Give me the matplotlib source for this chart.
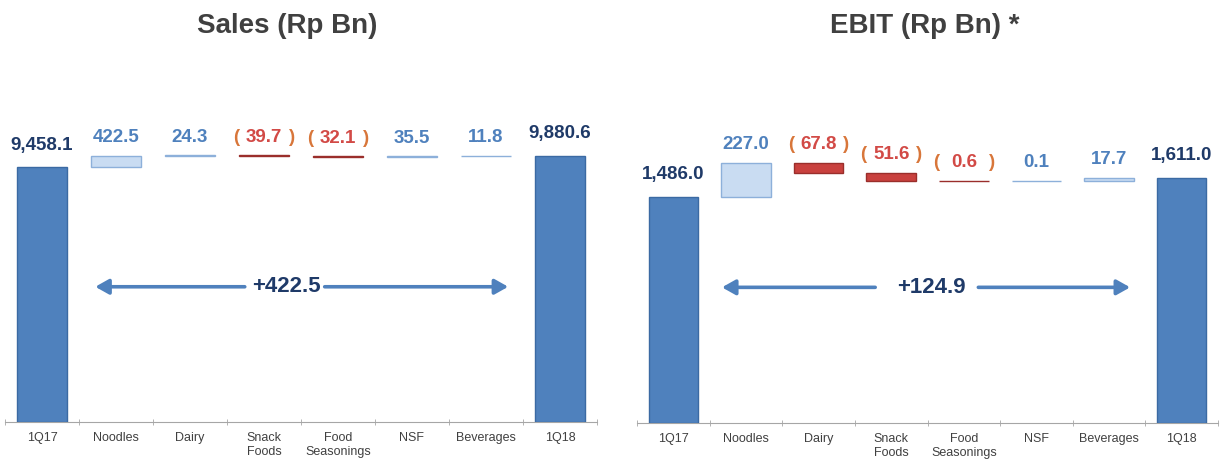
import numpy as np
import matplotlib
matplotlib.use('Agg')
import matplotlib.pyplot as plt

plt.rcParams['font.family'] = ['Liberation Sans', 'DejaVu Sans']

categories = ['1Q17', 'Noodles', 'Dairy', 'Snack\nFoods', 'Food\nSeasonings', 'NSF', 'Beverages', '1Q18']

sales_start = 9458.1
sales_end = 9880.6
sales_changes = [422.5, 24.3, -39.7, -32.1, 35.5, 11.8]
sales_delta = '+422.5'

ebit_start = 1486.0
ebit_end = 1611.0
ebit_changes = [227.0, -67.8, -51.6, -0.6, 0.1, 17.7]
ebit_delta = '+124.9'

TOTAL = '#4F81BD'
TOTAL_EDGE = '#3B6AA3'
POS = '#C9DCF2'
POS_EDGE = '#8DB0DA'
NEG = '#C9413E'
NEG_EDGE = '#9A2E2B'
NAVY = '#1F3A68'
BLUE_TXT = '#4F81BD'
RED_TXT = '#D24A46'
PAREN = '#D8763A'


def waterfall(ax, start, end, changes, ymax, delta, arrow_x, text_x):
    n = len(changes) + 2
    x = np.arange(n)
    w = 0.68
    # totals
    for i, v in [(0, start), (n - 1, end)]:
        ax.bar(i, v, w, color=TOTAL, edgecolor=TOTAL_EDGE, linewidth=1, zorder=3)
        ax.annotate(f'{v:,.1f}', (i, v), xytext=(0, 10), textcoords='offset points',
                    ha='center', va='bottom', fontsize=13.5, fontweight='bold', color=NAVY)
    cum = start
    for j, v in enumerate(changes):
        i = j + 1
        bottom = min(cum, cum + v)
        top = max(cum, cum + v)
        if v >= 0:
            ax.bar(i, v, w, bottom=cum, color=POS, edgecolor=POS_EDGE, linewidth=1, zorder=3)
            ax.annotate(f'{v:,.1f}', (i, top), xytext=(0, 7), textcoords='offset points',
                        ha='center', va='bottom', fontsize=13.5, fontweight='bold', color=BLUE_TXT)
        else:
            ax.bar(i, -v, w, bottom=bottom, color=NEG, edgecolor=NEG_EDGE, linewidth=1, zorder=3)
            ax.annotate(f'{-v:,.1f}', (i, top), xytext=(0, 7), textcoords='offset points',
                        ha='center', va='bottom', fontsize=13.5, fontweight='bold', color=RED_TXT)
            for dx, ch in [(-20, '('), (20, ')')]:
                ax.annotate(ch, (i, top), xytext=(dx, 7), textcoords='offset points',
                            ha='center', va='bottom', fontsize=13.5, fontweight='bold', color=PAREN)
        cum += v

    ax.set_xlim(-0.5, n - 0.5)
    ax.set_ylim(0, ymax)
    ax.set_xticks(x)
    ax.set_xticklabels(categories, fontsize=9, color='#404040')
    ax.set_xticks(np.arange(n + 1) - 0.5, minor=True)
    ax.tick_params(axis='x', which='major', length=0, pad=7)
    ax.tick_params(axis='x', which='minor', length=5, direction='inout', color='#A6A6A6')
    ax.set_yticks([])
    for s in ['top', 'left', 'right']:
        ax.spines[s].set_visible(False)
    ax.spines['bottom'].set_color('#A6A6A6')

    # delta arrows
    y = 0.42 * ymax
    aprops = dict(arrowstyle='-|>,head_length=0.8,head_width=0.45', color=TOTAL, lw=2.6,
                  shrinkA=0, shrinkB=0)
    ax.annotate('', xy=(arrow_x[0], y), xytext=(arrow_x[1], y), arrowprops=aprops)
    ax.annotate('', xy=(arrow_x[3], y), xytext=(arrow_x[2], y), arrowprops=aprops)
    ax.text(text_x, y, delta, ha='center', va='center', fontsize=16, fontweight='bold', color=NAVY)


fig = plt.figure(figsize=(12.21, 4.63), dpi=100)
W, H = 1221, 463
ax1 = fig.add_axes([5 / W, 41 / H, 592 / W, 322 / H])
ax2 = fig.add_axes([637 / W, 40 / H, 581 / W, 323 / H])

waterfall(ax1, sales_start, sales_end, sales_changes, 11962, sales_delta,
          (0.72, 2.74, 3.82, 6.30), 3.30)
waterfall(ax2, ebit_start, ebit_end, ebit_changes, 2125, ebit_delta,
          (0.67, 2.78, 4.20, 6.29), 3.56)

fig.text(287 / W, 1 - 26 / H, 'Sales (Rp Bn)', ha='center', va='center',
         fontsize=20, fontweight='bold', color='#404040')
fig.text(925 / W, 1 - 26 / H, 'EBIT (Rp Bn) *', ha='center', va='center',
         fontsize=20, fontweight='bold', color='#404040')

fig.savefig('out.png', dpi=100)
